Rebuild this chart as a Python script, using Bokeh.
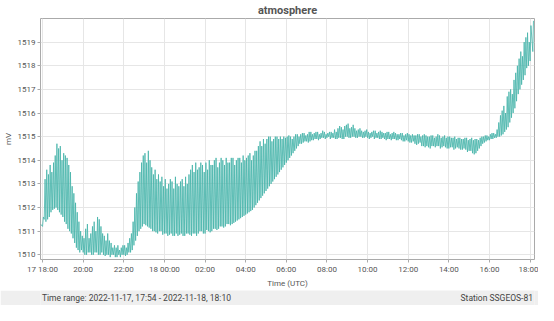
import pandas as pd
from bokeh.plotting import figure
from bokeh.models import FixedTicker, Range1d, Label, ColumnDataSource
from bokeh.layouts import column
from bokeh.embed import file_html
from bokeh.resources import INLINE

# ---- data ----
title_text = "atmosphere"
y_label = "mV"
x_label = "Time (UTC)"
footer_left = "Time range:  2022-11-17, 17:54 - 2022-11-18, 18:10"
footer_right = "Station SSGEOS-81"

series_start = "2022-11-17 17:54"
series_end = "2022-11-18 18:10"
grid_start = "2022-11-17 18:00"   # samples every 10 minutes from here
step_minutes = 10

start_value = 1511.3
end_values = [1518.6, 1519.9]

# trough / crest at hh:m0
lows = [
    1511.2, 1511.4, 1511.6, 1511.9, 1512.0, 1511.8, 1511.6, 1511.3, 1511.0, 1510.7,
    1510.3, 1510.1, 1510.1, 1510.0, 1510.1, 1510.0, 1510.1, 1510.0, 1510.0, 1510.0,
    1509.9, 1510.0, 1509.9, 1509.9, 1510.0, 1510.0, 1510.1, 1510.4, 1510.8, 1511.1,
    1511.3, 1511.2, 1511.1, 1511.0, 1510.9, 1511.0, 1510.9, 1510.8, 1510.9, 1510.8,
    1510.8, 1510.9, 1510.8, 1510.9, 1510.8, 1510.9, 1510.9, 1511.0, 1510.9, 1511.0,
    1511.0, 1511.1, 1511.1, 1511.2, 1511.2, 1511.3, 1511.3, 1511.4, 1511.5, 1511.6,
    1511.7, 1511.8, 1511.9, 1512.1, 1512.3, 1512.5, 1512.7, 1512.9, 1513.1, 1513.3,
    1513.5, 1513.7, 1513.9, 1514.1, 1514.3, 1514.5, 1514.7, 1514.75, 1514.8, 1514.8,
    1514.85, 1514.9, 1514.9, 1514.95, 1514.95, 1514.9, 1514.95, 1514.9, 1514.95, 1514.9,
    1515.0, 1514.95, 1515.0, 1514.95, 1515.0, 1514.95, 1514.95, 1514.95, 1514.9, 1514.95,
    1514.9, 1514.9, 1514.9, 1514.85, 1514.9, 1514.85, 1514.85, 1514.8, 1514.8, 1514.75,
    1514.7, 1514.7, 1514.6, 1514.55, 1514.55, 1514.6, 1514.55, 1514.6, 1514.55, 1514.55,
    1514.5, 1514.55, 1514.5, 1514.5, 1514.45, 1514.45, 1514.4, 1514.3, 1514.3, 1514.5,
    1514.7, 1514.8, 1514.85, 1514.9, 1514.95, 1515.0, 1515.1, 1515.3, 1515.6, 1516.0,
    1516.5, 1517.0, 1517.4, 1517.9, 1518.2,
]
highs = [
    1511.6, 1513.6, 1513.8, 1513.9, 1514.7, 1514.6, 1514.3, 1514.1, 1513.5, 1512.6,
    1511.8, 1511.0, 1510.7, 1511.3, 1510.9, 1511.4, 1511.6, 1511.2, 1510.8, 1510.9,
    1510.5, 1510.4, 1510.4, 1510.3, 1510.4, 1510.5, 1510.9, 1512.0, 1513.1, 1513.9,
    1514.3, 1514.4, 1513.7, 1513.6, 1513.4, 1513.3, 1513.2, 1513.0, 1513.1, 1513.3,
    1512.9, 1513.2, 1513.3, 1513.4, 1513.8, 1513.9, 1513.7, 1513.8, 1513.9, 1514.0,
    1513.8, 1514.1, 1513.9, 1514.0, 1514.1, 1513.9, 1514.1, 1514.0, 1514.1, 1514.2,
    1514.1, 1514.3, 1514.2, 1514.4, 1514.8, 1514.9, 1514.9, 1515.0, 1514.9, 1515.0,
    1515.0, 1515.0, 1515.0, 1515.0, 1515.0, 1515.1, 1515.1, 1515.15, 1515.1, 1515.2,
    1515.15, 1515.2, 1515.15, 1515.2, 1515.15, 1515.2, 1515.3, 1515.35, 1515.4, 1515.45,
    1515.55, 1515.4, 1515.35, 1515.3, 1515.25, 1515.25, 1515.2, 1515.2, 1515.25, 1515.2,
    1515.2, 1515.15, 1515.2, 1515.15, 1515.15, 1515.1, 1515.15, 1515.1, 1515.1, 1515.1,
    1515.05, 1515.1, 1515.05, 1515.05, 1515.0, 1515.05, 1515.0, 1515.05, 1515.0, 1514.95,
    1515.0, 1514.95, 1514.9, 1514.95, 1514.9, 1514.95, 1514.9, 1514.85, 1514.9, 1514.95,
    1515.0, 1515.05, 1515.1, 1515.15, 1515.3, 1515.9, 1516.3, 1516.7, 1517.0, 1517.4,
    1518.0, 1518.6, 1519.0, 1519.4, 1519.7,
]
# trough / crest at hh:m5
lows_b = [
    1511.5, 1511.5, 1511.8, 1511.95, 1511.9, 1511.7, 1511.4, 1511.1, 1510.9, 1510.5,
    1510.2, 1510.2, 1510.0, 1510.1, 1510.0, 1510.1, 1510.0, 1510.1, 1509.95, 1510.0,
    1510.0, 1509.9, 1510.0, 1510.0, 1509.95, 1510.1, 1510.2, 1510.6, 1511.0, 1511.2,
    1511.25, 1511.15, 1511.0, 1510.95, 1511.0, 1510.85, 1510.9, 1510.85, 1510.8, 1510.9,
    1510.85, 1510.8, 1510.9, 1510.85, 1510.9, 1510.8, 1511.0, 1510.9, 1511.05, 1510.95,
    1511.1, 1511.05, 1511.2, 1511.15, 1511.3, 1511.25, 1511.35, 1511.45, 1511.55, 1511.65,
    1511.75, 1511.85, 1512.0, 1512.2, 1512.4, 1512.6, 1512.8, 1513.0, 1513.2, 1513.4,
    1513.6, 1513.8, 1514.0, 1514.2, 1514.4, 1514.6, 1514.7, 1514.8, 1514.75, 1514.85,
    1514.9, 1514.85, 1514.95, 1514.9, 1515.0, 1514.95, 1514.9, 1514.95, 1514.9, 1515.0,
    1514.95, 1515.0, 1514.95, 1515.0, 1514.95, 1515.0, 1514.9, 1515.0, 1514.95, 1514.9,
    1514.95, 1514.85, 1514.9, 1514.9, 1514.85, 1514.9, 1514.8, 1514.85, 1514.75, 1514.8,
    1514.65, 1514.75, 1514.6, 1514.6, 1514.5, 1514.6, 1514.6, 1514.5, 1514.6, 1514.5,
    1514.55, 1514.45, 1514.55, 1514.45, 1514.5, 1514.35, 1514.4, 1514.25, 1514.4, 1514.6,
    1514.75, 1514.85, 1514.9, 1514.95, 1515.0, 1515.05, 1515.2, 1515.4, 1515.8, 1516.2,
    1516.8, 1517.2, 1517.6, 1518.0,
]
highs_b = [
    1513.2, 1513.4, 1513.5, 1514.2, 1514.5, 1514.0, 1514.2, 1513.8, 1512.9, 1512.2,
    1511.4, 1510.8, 1511.1, 1510.7, 1511.2, 1511.0, 1511.5, 1510.9, 1510.6, 1510.6,
    1510.3, 1510.3, 1510.2, 1510.4, 1510.3, 1510.7, 1511.4, 1512.6, 1513.5, 1514.2,
    1513.9, 1514.0, 1513.4, 1513.2, 1513.1, 1512.9, 1512.8, 1513.2, 1512.8, 1513.0,
    1513.1, 1512.9, 1513.0, 1513.6, 1513.5, 1513.6, 1513.9, 1513.5, 1513.6, 1513.8,
    1514.0, 1513.7, 1514.1, 1513.8, 1513.9, 1514.1, 1513.8, 1514.1, 1513.9, 1514.0,
    1514.2, 1514.0, 1514.4, 1514.6, 1514.6, 1514.7, 1515.0, 1514.8, 1515.0, 1514.9,
    1514.9, 1514.95, 1515.05, 1514.9, 1515.1, 1515.0, 1515.15, 1515.05, 1515.2, 1515.1,
    1515.2, 1515.1, 1515.25, 1515.1, 1515.2, 1515.15, 1515.2, 1515.45, 1515.3, 1515.5,
    1515.35, 1515.5, 1515.25, 1515.35, 1515.2, 1515.3, 1515.15, 1515.25, 1515.15, 1515.25,
    1515.15, 1515.2, 1515.1, 1515.2, 1515.1, 1515.15, 1515.05, 1515.15, 1515.05, 1515.05,
    1515.1, 1515.0, 1515.1, 1515.0, 1515.05, 1514.95, 1515.1, 1514.95, 1515.05, 1515.0,
    1514.95, 1515.0, 1514.95, 1514.9, 1514.95, 1514.85, 1514.95, 1514.9, 1514.85, 1515.0,
    1515.05, 1515.0, 1515.15, 1515.1, 1515.6, 1516.1, 1516.0, 1516.9, 1516.8, 1517.7,
    1518.3, 1518.4, 1519.2, 1519.0,
]

x_tick_times = [
    "2022-11-17 18:00", "2022-11-17 20:00", "2022-11-17 22:00", "2022-11-18 00:00",
    "2022-11-18 02:00", "2022-11-18 04:00", "2022-11-18 06:00", "2022-11-18 08:00",
    "2022-11-18 10:00", "2022-11-18 12:00", "2022-11-18 14:00", "2022-11-18 16:00",
    "2022-11-18 18:00",
]
x_tick_labels = ["17 18:00", "20:00", "22:00", "18 00:00", "02:00", "04:00", "06:00",
                 "08:00", "10:00", "12:00", "14:00", "16:00", "18:00"]
y_ticks = [1510, 1511, 1512, 1513, 1514, 1515, 1516, 1517, 1518, 1519]

# ---- build the series (troughs and crests in time order) ----
t0 = pd.Timestamp(grid_start)
q = pd.Timedelta(minutes=step_minutes / 4)
times = [pd.Timestamp(series_start)]
vals = [start_value]
for k in range(len(lows)):
    tk = t0 + pd.Timedelta(minutes=step_minutes * k)
    times += [tk, tk + q]
    vals += [lows[k], highs[k]]
    if k < len(lows_b):
        times += [tk + 2 * q, tk + 3 * q]
        vals += [lows_b[k], highs_b[k]]
t_end = pd.Timestamp(series_end)
times += [t_end - pd.Timedelta(minutes=2), t_end]
vals += end_values
src = ColumnDataSource(data=dict(t=times, v=vals))

FONT = "Roboto"
TXT = "#555555"

p = figure(width=538, height=290, x_axis_type="datetime",
           output_backend="svg", toolbar_location=None,
           x_range=Range1d(pd.Timestamp(series_start), t_end + pd.Timedelta(minutes=3)),
           y_range=Range1d(1509.8, 1520.0),
           min_border_left=0, min_border_right=4, min_border_top=0, min_border_bottom=0)
p.line("t", "v", source=src, line_color="#45b3aa", line_width=0.9, line_alpha=0.9)

p.title.text = title_text
p.title.align = "center"
p.title.text_font = FONT
p.title.text_font_size = "11px"
p.title.text_color = TXT
p.title.text_font_style = "bold"
p.title.standoff = 3

tick_ms = [pd.Timestamp(s).value / 1e6 for s in x_tick_times]
p.xaxis.ticker = FixedTicker(ticks=tick_ms)
p.xaxis.major_label_overrides = {ms: lab for ms, lab in zip(tick_ms, x_tick_labels)}
p.yaxis.ticker = FixedTicker(ticks=y_ticks)
p.xaxis.axis_label = x_label
p.yaxis.axis_label = y_label

for ax in (p.xaxis[0], p.yaxis[0]):
    ax.axis_line_color = None
    ax.major_tick_line_color = "#aaaaaa"
    ax.major_tick_out = 3
    ax.major_tick_in = 0
    ax.minor_tick_line_color = None
    ax.major_label_text_font = FONT
    ax.major_label_text_font_size = "8px"
    ax.major_label_text_color = TXT
    ax.axis_label_text_font = FONT
    ax.axis_label_text_font_size = "8px"
    ax.axis_label_text_color = TXT
    ax.axis_label_text_font_style = "normal"
    ax.major_label_standoff = 2
    ax.axis_label_standoff = 2

p.grid.grid_line_color = "#e6e6e6"
p.outline_line_color = "#aaaaaa"
p.outline_line_width = 1

# ---- footer band (its frame is aligned with the chart frame by the column) ----
f = figure(width=538, height=15, output_backend="svg", toolbar_location=None,
           x_axis_location=None, y_axis_location=None,
           x_range=Range1d(0, 1), y_range=Range1d(0, 1),
           min_border=0, background_fill_color="#efefef", border_fill_color="#efefef",
           outline_line_color=None)
f.grid.visible = False
f.add_layout(Label(x=0.003, y=0.5, text=footer_left,
                   text_baseline="middle", text_align="left",
                   text_font=FONT, text_font_size="8.5px", text_color="#444444"))
f.add_layout(Label(x=0.997, y=0.5, text=footer_right,
                   text_baseline="middle", text_align="right",
                   text_font=FONT, text_font_size="8.5px", text_color="#444444"))

layout = column(p, f, spacing=0)
open("out.html", "w").write(file_html(layout, INLINE))
